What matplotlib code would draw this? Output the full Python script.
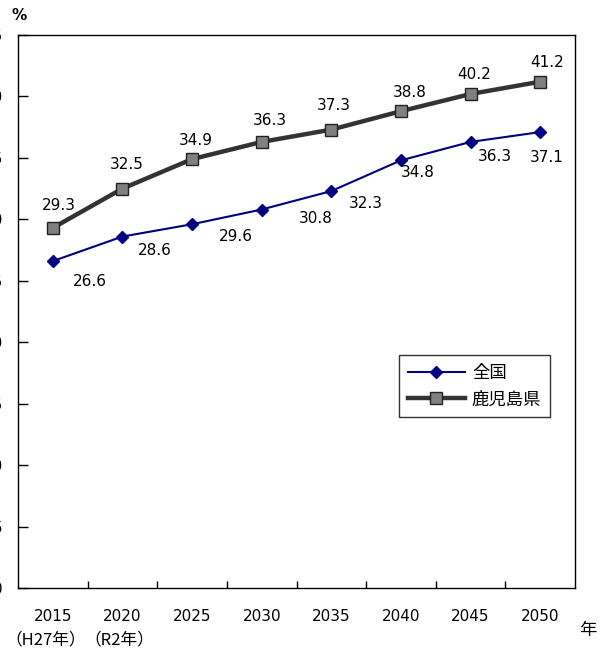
import numpy as np
import matplotlib.pyplot as plt

plt.rcParams['font.family'] = ['DejaVu Sans', 'Noto Sans CJK JP']

years = ['2015', '2020', '2025', '2030', '2035', '2040', '2045', '2050']
zenkoku = [26.6, 28.6, 29.6, 30.8, 32.3, 34.8, 36.3, 37.1]
kagoshima = [29.3, 32.5, 34.9, 36.3, 37.3, 38.8, 40.2, 41.2]

# label offsets in pixels (hand placed like the original)
zk_off = [(37, -20), (32, -14), (44, -12), (54, -9), (34, -12), (17, -12), (24, -15), (7, -25)]
kg_off = [(6, 22), (4, 24), (4, 19), (8, 21), (2, 24), (9, 19), (4, 19), (7, 19)]

fig = plt.figure(figsize=(6.07, 6.5), dpi=100)
ax = fig.add_axes([18/607, 62/650, 557/607, 553/650])

x = np.arange(len(years))
ax.plot(x, zenkoku, color='#000080', lw=1.5, marker='D', ms=6,
        mfc='#000080', mec='#000080', label='全国', zorder=3)
ax.plot(x, kagoshima, color='#333333', lw=3.2, marker='s', ms=8.5,
        mfc='#808080', mec='#222222', mew=1, label='鹿児島県', zorder=3)

for i in range(len(x)):
    ax.annotate(f'{zenkoku[i]:.1f}', (x[i], zenkoku[i]), xytext=zk_off[i],
                textcoords='offset pixels', ha='center', va='center', fontsize=11)
    ax.annotate(f'{kagoshima[i]:.1f}', (x[i], kagoshima[i]), xytext=kg_off[i],
                textcoords='offset pixels', ha='center', va='center', fontsize=11)

ax.set_xlim(-0.5, len(years) - 0.5)
ax.set_ylim(0, 45)
ax.set_yticks(np.arange(0, 46, 5))
ax.tick_params(axis='y', direction='in', length=7, width=1, pad=11, labelsize=11)
ax.set_xticks(x)
ax.set_xticklabels(years, fontsize=11)
ax.set_xticks(np.arange(0.5, len(years) - 1, 1), minor=True)
ax.tick_params(axis='x', which='major', length=0, pad=15)
ax.tick_params(axis='x', which='minor', direction='in', length=5, width=1)
for s in ax.spines.values():
    s.set_linewidth(1)

leg = ax.legend(loc='upper left', bbox_to_anchor=(381/557, 1 - 320/553), borderaxespad=0,
                fontsize=12.5, frameon=True, fancybox=False, edgecolor='black',
                handlelength=3.3, borderpad=0.5, labelspacing=0.5, handletextpad=0.4)
leg.get_frame().set_linewidth(1)

cjk = ['Noto Sans CJK JP', 'DejaVu Sans']
fig.text(12/607, 1 - 15/650, '%', fontsize=11, ha='left', va='center', fontweight='bold')
fig.text(588/607, 1 - 630/650, '年', fontsize=12.5, ha='center', va='center', family=cjk)
fig.text(46/607, 1 - 640/650, '（H27年）', fontsize=12, ha='center', va='center', family=cjk)
fig.text(119/607, 1 - 640/650, '（R2年）', fontsize=12, ha='center', va='center', family=cjk)

fig.savefig('out.png', dpi=100)
